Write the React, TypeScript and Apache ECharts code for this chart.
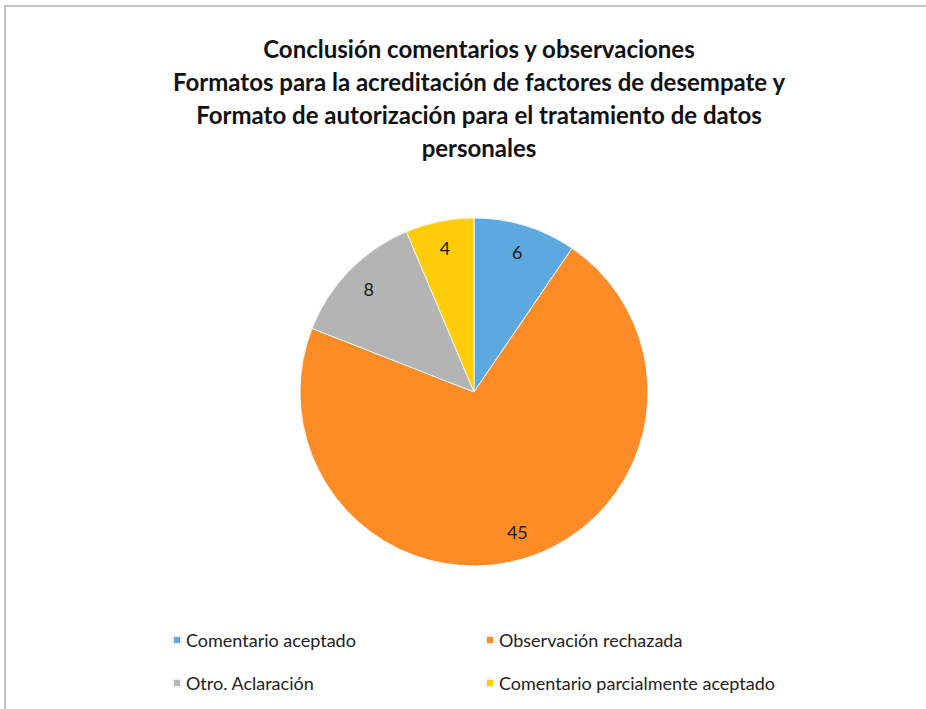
import React, { useEffect, useRef } from "react";
import * as echarts from "echarts";

const titleLines = [
  "Conclusión comentarios y observaciones",
  "Formatos para la acreditación de factores de desempate y",
  "Formato de autorización para el tratamiento de datos",
  "personales",
];
const categories = [
  "Comentario aceptado",
  "Observación rechazada",
  "Otro. Aclaración",
  "Comentario parcialmente aceptado",
];
const values = [6, 45, 8, 4];
const colors = ["#5ba9de", "#fd8c27", "#b4b4b4", "#fecc08"];
const legendLeftCol = ["Comentario aceptado", "Otro. Aclaración"];
const legendRightCol = ["Observación rechazada", "Comentario parcialmente aceptado"];

export default function App() {
  const ref = useRef<HTMLDivElement>(null);
  useEffect(() => {
    if (!ref.current) return;
    const chart = echarts.init(ref.current, undefined, { renderer: "svg" });
    const data = categories.map((name, i) => ({
      name,
      value: values[i],
      itemStyle: { color: colors[i] },
    }));
    const legendBase = {
      orient: "vertical" as const,
      top: 630,
      padding: 0,
      itemWidth: 8,
      itemHeight: 8,
      itemGap: 23,
      icon: "rect",
      selectedMode: false,
      textStyle: {
        fontFamily: "Lato",
        fontSize: 18,
        color: "#222",
        lineHeight: 20,
      },
    };
    chart.setOption({
      animation: false,
      backgroundColor: "#fff",
      title: {
        text: titleLines.join("\n"),
        left: 474,
        top: 27,
        textAlign: "center",
        textStyle: {
          fontFamily: "Lato",
          fontWeight: "bold",
          fontSize: 24,
          lineHeight: 33,
          color: "#111",
        },
      },
      graphic: [
        {
          type: "rect",
          shape: { x: 5, y: 6, width: 1000, height: 1000 },
          style: { fill: "none", stroke: "#c4c4c4", lineWidth: 2 },
          silent: true,
        },
      ],
      legend: [
        { ...legendBase, left: 172, data: legendLeftCol },
        { ...legendBase, left: 485, data: legendRightCol },
      ],
      series: [
        {
          type: "pie",
          center: [474, 392],
          radius: [0, 174],
          startAngle: 90,
          clockwise: true,
          data,
          label: { show: false },
          labelLine: { show: false },
          itemStyle: { borderColor: "#f4f4f4", borderWidth: 1 },
          emphasis: { disabled: true },
        },
        {
          type: "pie",
          center: [474, 392],
          radius: [114, 174],
          startAngle: 90,
          clockwise: true,
          silent: true,
          legendHoverLink: false,
          data: categories.map((name, i) => ({ name, value: values[i] })),
          itemStyle: { color: "rgba(0,0,0,0)" },
          label: {
            show: true,
            position: "inside",
            formatter: "{c}",
            fontFamily: "Lato",
            fontSize: 18,
            color: "#1a1a1a",
          },
          labelLine: { show: false },
          emphasis: { disabled: true },
        },
      ],
    });
    return () => chart.dispose();
  }, []);
  return (
    <div
      ref={ref}
      style={{ position: "fixed", left: 0, top: 0, width: 926, height: 709 }}
    />
  );
}
